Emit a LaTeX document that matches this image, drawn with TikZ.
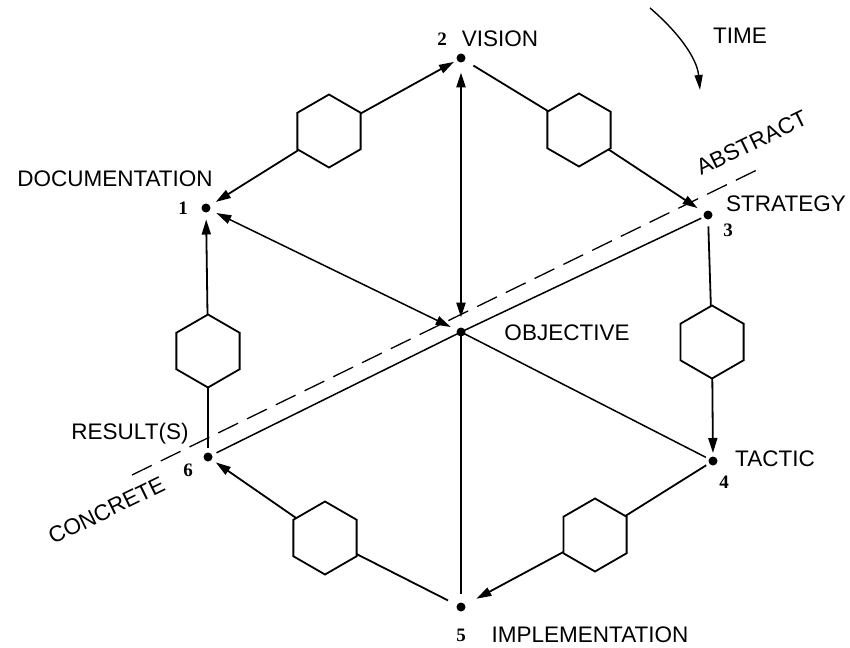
\documentclass[tikz,border=0pt]{standalone}
\usepackage{fontspec}
\setmainfont{Liberation Sans}
\newfontfamily\numfont{Liberation Serif}
\usetikzlibrary{arrows.meta,shapes.geometric}

\begin{document}
\begin{tikzpicture}[x=1pt,y=-1pt,
  lbl/.style={font=\fontsize{22.5}{26}\selectfont, inner sep=0pt, anchor=base},
  num/.style={font=\numfont\bfseries\fontsize{19}{22}\selectfont, inner sep=0pt, anchor=base},
  dot/.style={circle, fill, inner sep=0pt, minimum size=9pt, outer sep=0pt},
  hexa/.style={draw, regular polygon, regular polygon sides=6, shape border rotate=30,
    minimum size=73pt, inner sep=0pt, outer sep=0pt, line width=1.8pt},
  edge/.style={line width=1.8pt},
  spoke/.style={line width=1.5pt},
  heavy/.style={line width=2.6pt},
  tip/.style={-{Triangle[length=15pt,width=9pt]}},
  tips/.style={{Triangle[length=15pt,width=9pt]}-{Triangle[length=15pt,width=9pt]}},
]
\useasboundingbox (0,0) rectangle (850,647);

% stages and the centre
\node[dot] (p1) at (206,208) {};
\node[dot] (p2) at (461,58) {};
\node[dot] (p3) at (708,215) {};
\node[dot] (p4) at (713,461) {};
\node[dot] (p5) at (461,607) {};
\node[dot] (p6) at (208,457) {};
\node[dot] (o)  at (461,332) {};

% hexagons on the outer edges
\node[hexa] (h12) at (329,131) {};
\node[hexa] (h23) at (579,130) {};
\node[hexa] (h34) at (712,342) {};
\node[hexa] (h45) at (595,535) {};
\node[hexa] (h56) at (325,538) {};
\node[hexa] (h61) at (208,351) {};

% outer cycle
\draw[edge,tip,shorten >=3.5pt] (h12) -- (p2);
\draw[edge,tip,shorten >=7pt] (h12) -- (p1);
\draw[edge,shorten <=10pt] (p2) -- (h23);
\draw[edge,tip,shorten >=8pt] (h23) -- (p3);
\draw[edge,shorten <=7pt] (p3) -- (h34);
\draw[edge,tip,shorten >=3.5pt] (h34) -- (p4);
\draw[edge,shorten <=3.5pt] (p4) -- (h45);
\draw[edge,tip,shorten >=13pt] (h45) -- (p5);
\draw[edge,shorten <=10pt] (p5) -- (h56);
\draw[edge,tip,shorten >=5pt] (h56) -- (p6);
\draw[edge,shorten <=5pt] (p6) -- (h61);
\draw[edge,tip,shorten >=7pt] (h61) -- (p1);

% spokes from the objective
\draw[heavy,tips,shorten <=10pt,shorten >=10pt] (o) -- (p2);
\draw[spoke,tips,shorten <=7pt,shorten >=7pt] (o) -- (p1);
\draw[spoke,shorten >=3.5pt] (o.center) -- (p4);
\draw[heavy,shorten >=9pt] (o.center) -- (p5);
\draw[spoke,shorten <=5pt,shorten >=3pt] (p6) -- (o.center) -- (p3);

% abstract / concrete divide
\coordinate (cEnd) at (132,475);
\coordinate (aEnd) at (763,167);
\draw[line width=1.3pt, dash pattern=on 22pt off 10pt] (cEnd) -- (aEnd);
\node[lbl, anchor=base west, rotate=26] (abs) at (701,176) {ABSTRACT};
\node[lbl, anchor=base west, rotate=26] (con) at (53,545) {CONCRETE};

% time arrow
\coordinate (t0) at (650,8);
\coordinate (t1) at (700,90);
\draw[line width=1.4pt,-{Triangle[length=15pt,width=8pt]}] (t0) .. controls (678,32) and (697,58) .. (t1);
\node[lbl] (time) at (740,44) {TIME};

% labels
\node[lbl] (l1) at (115,186) {DOCUMENTATION};
\node[num] (n1) at (183,214) {1};
\node[num] (n2) at (442,46) {2};
\node[lbl] (l2) at (500,47) {VISION};
\node[lbl] (l3) at (786,211) {STRATEGY};
\node[num] (n3) at (728,236) {3};
\node[lbl] (lo) at (567,340) {OBJECTIVE};
\node[lbl] (l4) at (775,466) {TACTIC};
\node[num] (n4) at (724,488) {4};
\node[num] (n5) at (461,641) {5};
\node[lbl] (l5) at (590,642) {IMPLEMENTATION};
\node[lbl] (l6) at (130,439) {RESULT(S)};
\node[num] (n6) at (188,476) {6};
\end{tikzpicture}
\end{document}
